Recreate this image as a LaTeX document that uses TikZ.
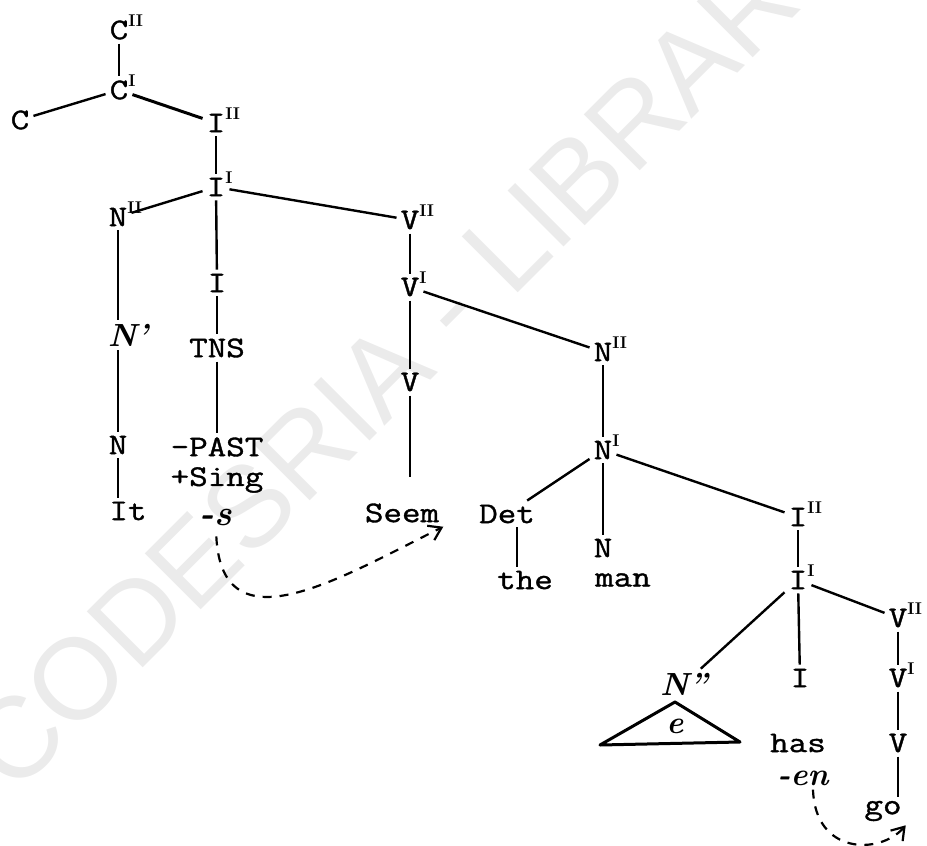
\documentclass[tikz,border=0pt]{standalone}
\usepackage{fontspec}
\setmonofont{Latin Modern Mono}[FakeStretch=1.2,FakeBold=1.2]
\newfontfamily\stampfont{Liberation Sans}
\usepackage{tikz}
\usetikzlibrary{arrows.meta}
% bar levels, hung on the right of a category letter
\newcommand\lvI{\rlap{\smash{\raisebox{13pt}{\fontsize{17}{17}\rmfamily\bfseries I}}}}
\newcommand\lvII{\rlap{\smash{\raisebox{13pt}{\fontsize{17}{17}\rmfamily\bfseries II}}}}
\tikzset{
  cat/.style={font=\fontsize{30}{32}\selectfont\ttfamily, inner sep=4pt},
  hand/.style={font=\fontsize{32}{34}\selectfont\rmfamily\bfseries\itshape, inner sep=4pt},
  branch/.style={line width=2.4pt},
  move/.style={-{Straight Barb[length=12pt,width=16pt]}, line width=2.2pt, dash pattern=on 9pt off 8pt},
}
\begin{document}
\begin{tikzpicture}[x=1pt,y=-1pt]
  \useasboundingbox (0,0) rectangle (927,846);
  % watermark
  \begin{scope}
    \clip (0,0) rectangle (927,846);
    \node[text=gray!16, font=\fontsize{115}{115}\selectfont\stampfont, rotate=45] (stamp) at (408,347) {CODESRIA - LIBRARY};
  \end{scope}
  % upper tree
  \node[cat] (cII) at (119,30) {C\lvII};
  \node[cat] (cI) at (119,90) {C\lvI};
  \node[cat] (c) at (20,120) {C};
  \node[cat] (ipA) at (216,123) {I\lvII};
  \node[cat] (ibA) at (216,187) {I\lvI};
  \node[cat] (npA) at (118,217) {N\lvII};
  \node[hand] (nbA) at (128,335) {N'};
  \node[cat] (nA) at (118,445) {N};
  \node[cat] (it) at (128,511) {It};
  \node[cat] (iA) at (217,283) {I};
  \node[cat] (tns) at (217,348) {TNS};
  \node[cat] (past) at (217,447) {-PAST};
  \node[cat] (sing) at (217,480) {+Sing};
  \node[hand, font=\fontsize{36}{38}\selectfont\rmfamily\bfseries\itshape] (sfx) at (216,518) {-s};
  \node[cat] (vpA) at (410,220) {V\lvII};
  \node[cat] (vbA) at (410,287) {V\lvI};
  \node[cat] (vA) at (410,382) {V};
  \node[cat] (seem) at (402,513) {Seem};
  % subject NP
  \node[cat] (npB) at (603,352) {N\lvII};
  \node[cat] (nbB) at (603,450) {N\lvI};
  \node[cat] (det) at (507,514) {Det};
  \node[cat] (the) at (525,580) {the};
  \node[cat] (nB) at (603,548) {N};
  \node[cat] (man) at (623,580) {man};
  % lower clause
  \node[cat] (ipB) at (798,517) {I\lvII};
  \node[cat] (ibB) at (798,580) {I\lvI};
  \node[hand] (npC) at (684,684) {N''};
  \coordinate (apex) at (675,702);
  \node[hand] (gap) at (675,726) {e};
  \node[cat] (iB) at (800,678) {I};
  \node[cat] (has) at (798,743) {has};
  \node[hand] (en) at (803,778) {-en};
  \node[cat] (vpB) at (898,618) {V\lvII};
  \node[cat] (vbB) at (898,678) {V\lvI};
  \node[cat] (vB) at (898,743) {V};
  \node[cat] (go) at (883,811) {go};

  \draw[branch] (cII) -- (cI);
  \draw[branch] (c) -- (cI);
  \draw[branch, line width=3pt] (cI) -- (ipA);
  \draw[branch] (ipA) -- (ibA);
  \draw[branch] (ibA) -- (npA);
  \draw[branch] (ibA) -- (iA);
  \draw[branch] (ibA) -- (vpA);
  \draw[branch] (npA) -- (npA |- nbA.north);
  \draw[branch] (npA |- nbA.south) -- (nA);
  \draw[branch] (nA) -- (nA |- it.north);
  \draw[branch] (iA) -- (tns);
  \draw[branch] (tns) -- (past);
  \draw[branch] (vpA) -- (vbA);
  \draw[branch] (vbA) -- (vA);
  \draw[branch, shorten >=22pt] (vA) -- (vA |- seem.north);
  \draw[branch] (vbA) -- (npB);
  \draw[branch] (npB) -- (nbB);
  \draw[branch] (nbB) -- (det);
  \draw[branch] (nbB) -- (nB);
  \draw[branch] (nbB) -- (ipB);
  \draw[branch] ([xshift=10pt]det.south) -- ([xshift=10pt]det.south |- the.north);
  \draw[branch] (ipB) -- (ibB);
  \draw[branch] (ibB) -- (npC);
  \draw[branch] (ibB) -- (iB);
  \draw[branch] (ibB) -- (vpB);
  \draw[branch] (vpB) -- (vbB);
  \draw[branch] (vbB) -- (vB);
  \draw[branch] (vB) -- (vB |- go.north);
  \draw[branch, line width=3pt, line join=round] (apex) -- ++(-75,43) -- ++(140,-3) -- cycle;
  % affix hopping
  \draw[move, shorten <=6pt] (sfx.south) .. controls (222,650) and (340,578) .. (seem.south east);
  \draw[move] ([xshift=10pt]en.south) .. controls (815,855) and (880,855) .. (go.south east);
\end{tikzpicture}
\end{document}
